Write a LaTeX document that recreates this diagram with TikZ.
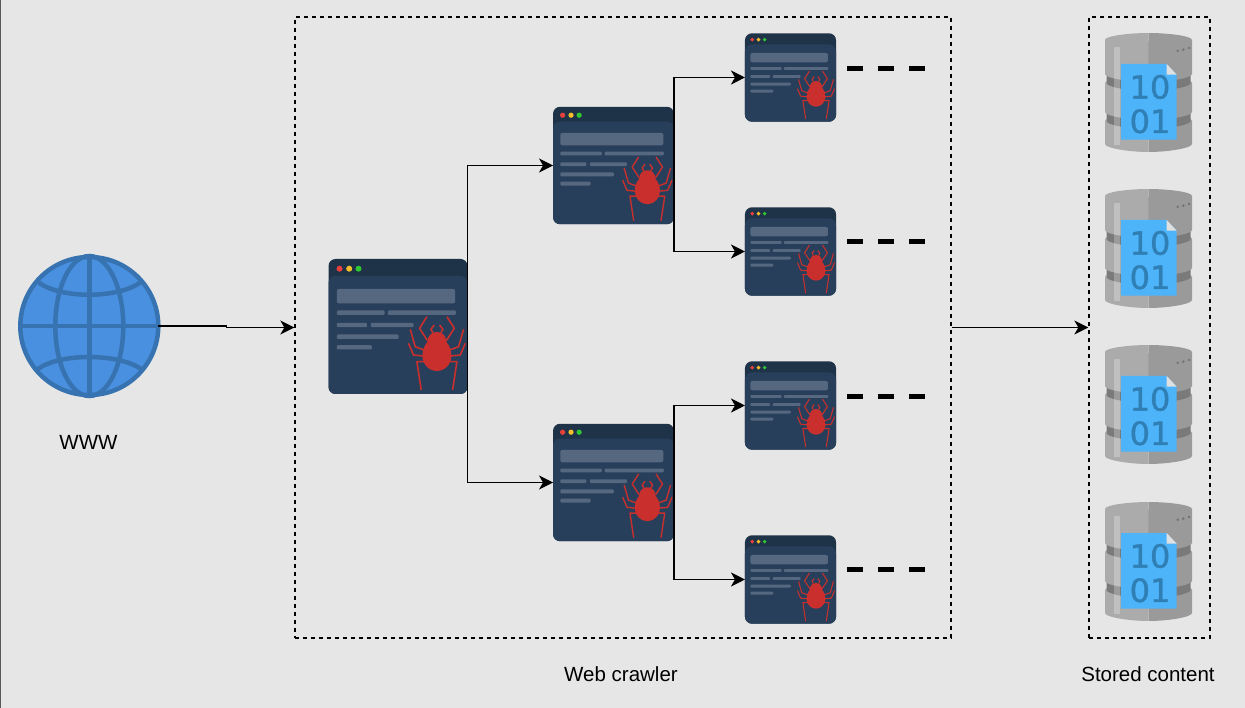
\documentclass[tikz,border=0pt]{standalone}
\usepackage{fontspec}
\setmainfont{Liberation Sans}
\newfontfamily\docfont[FakeBold=1.2]{DejaVu Sans}
\usetikzlibrary{arrows.meta,positioning}
\definecolor{backcol}{HTML}{E6E6E6}
\definecolor{headcol}{HTML}{1E3348}
\definecolor{bodycol}{HTML}{283F5C}
\definecolor{barcol}{HTML}{55687F}
\definecolor{bugcol}{HTML}{C92F2C}
\definecolor{dotred}{HTML}{E8413C}
\definecolor{dotyellow}{HTML}{F5BF2B}
\definecolor{dotgreen}{HTML}{2FC832}
\definecolor{globecol}{HTML}{4A90E0}
\definecolor{globeline}{HTML}{3673B0}
\definecolor{dbleft}{HTML}{ABABAB}
\definecolor{dbright}{HTML}{9A9A9A}
\definecolor{dbband}{HTML}{7A7A7A}
\definecolor{doccol}{HTML}{4DB4FA}
\definecolor{docnum}{HTML}{2F7FB5}
\tikzset{
  flow/.style={-{Stealth[length=14pt,width=14pt,inset=4pt]},line width=1.5pt,black},
  crawlbox/.style={draw,dash pattern=on 4pt off 4pt,line width=1.3pt,inner sep=0pt},
  caption/.style={font=\fontsize{20.5}{24}\selectfont,inner sep=0pt},
  pagebox/.style={inner sep=0pt,outer sep=0pt},
  trail/.style={line width=5pt,black},
  crawlerpage/.pic={
    \begin{scope}[scale=#1]
      \fill[headcol] (0,0) [rounded corners=7] rectangle (139,135);
      \fill[bodycol] (0,17) [rounded corners=7] rectangle (139,135);
      \fill[dotred] (11,9.7) circle (3);
      \fill[dotyellow] (20.7,9.7) circle (3);
      \fill[dotgreen] (30,9.7) circle (3);
      \fill[barcol] (8.3,30) [rounded corners=2] rectangle (126.7,44.3);
      \foreach \xa/\xb/\yy in {8.3/56/53.7,59.3/127.3/53.7,8.3/38.3/66,42.3/85/66,8.3/70/77.7,8.3/43.3/88.3}
        \fill[barcol] (\xa,\yy-2.2) [rounded corners=1] rectangle (\xb,\yy+2.2);
      \begin{scope}[shift={(108.4,0)}]
        \foreach \m in {1,-1} {
          \begin{scope}[xscale=\m,bugcol,line width={1.6*#1 pt},line join=round]
            \draw (-10,57.7) -- (-17.4,69.3) -- (-9.4,81.7);
            \draw (-26.7,70.3) -- (-21.7,87.7) -- (-12.7,91);
            \draw (-28.4,84.3) -- (-23.4,96) -- (-13.4,97);
            \draw (-15.7,131) -- (-20,102.7) -- (-10.7,102.7);
            \draw (-4,73.7) -- (-6,70.3) -- (-2.7,66);
          \end{scope}
        }
        \fill[bugcol] (0,73) .. controls (6,73) and (9,77) .. (9.5,83)
          .. controls (13,87) and (14.5,92) .. (14.5,97)
          .. controls (14.5,105) and (8,112) .. (0,112)
          .. controls (-8,112) and (-14.5,105) .. (-14.5,97)
          .. controls (-14.5,92) and (-13,87) .. (-9.5,83)
          .. controls (-9,77) and (-6,73) .. (0,73) -- cycle;
      \end{scope}
    \end{scope}
  },
  datastore/.pic={
    \foreach \m/\sidecol in {1/dbright,-1/dbleft} {
      \begin{scope}[shift={(43.5,0)},xscale=\m]
        \fill[\sidecol] (0,81) .. controls (20,81) and (43.5,84) .. (43.5,88) -- (43.5,111)
          .. controls (43.5,115) and (20,119) .. (0,119) -- cycle;
        \fill[dbband] (0,45) .. controls (20,45) and (42,48) .. (42,52) -- (42,88)
          .. controls (42,92) and (20,96) .. (0,96) -- cycle;
        \fill[\sidecol] (0,43) .. controls (20,43) and (43.5,46) .. (43.5,50) -- (43.5,79)
          .. controls (43.5,83) and (20,87) .. (0,87) -- cycle;
        \fill[dbband] (0,8) .. controls (20,8) and (42,10) .. (42,14) -- (42,50)
          .. controls (42,54) and (20,58) .. (0,58) -- cycle;
        \fill[\sidecol] (0,0) .. controls (20,0) and (43.5,3) .. (43.5,7) -- (43.5,41)
          .. controls (43.5,45) and (20,49) .. (0,49) -- cycle;
      \end{scope}
    }
    \fill[white,opacity=.25] (8.5,14) rectangle (15,112);
    \foreach \xx/\yy in {72.7/17.7,78.3/16.7,84/15} \fill[black!55] (\xx,\yy) circle (1.4);
    \fill[doccol] (16,31) -- (61.7,31) -- (71.7,41.7) -- (71.7,106.7) -- (16,106.7) -- cycle;
    \fill[black!12] (61.7,31) -- (71.7,41.7) -- (61.7,41.7) -- cycle;
    \node[inner sep=0pt,text=docnum,font=\docfont\fontsize{32}{32}\selectfont] at (45,54) {10};
    \node[inner sep=0pt,text=docnum,font=\docfont\fontsize{32}{32}\selectfont] at (45,88.3) {01};
  }
}
% one page: box for the connectors, then the drawing in it
\newcommand{\crawlpage}[4]{%
  \node[pagebox,minimum width={139*#4 pt},minimum height={135*#4 pt}] (#1) at (#2,#3) {};
  \pic at (#1.north west) {crawlerpage=#4};
}
\begin{document}
\begin{tikzpicture}[x=1pt,y=-1pt]
  \useasboundingbox (0,0) rectangle (1245,708);
  \fill[backcol] (0,0) rectangle (1245,708);
  \draw[gray!70!black,line width=1pt] (0.5,0) -- (0.5,708);

  % www
  \node[circle,draw=globeline,fill=globecol,line width=4.5pt,minimum size=138pt,inner sep=0pt,outer sep=0pt] (globe) at (89.3,326) {};
  \begin{scope}[globeline,line width=4.5pt]
    \draw (globe.north) -- (globe.south);
    \draw (globe.west) -- (globe.east);
    \draw (89.3,326) ellipse (34 and 70);
    \draw (38,282) .. controls (60,299) and (118,299) .. (141,282);
    \draw (38,369) .. controls (60,353) and (118,353) .. (141,369);
  \end{scope}
  \node[caption] (wwwlabel) at (88.5,442) {WWW};

  % crawler pages
  \crawlpage{rootpage}{398}{326.5}{1}
  \crawlpage{upperpage}{613.5}{165.5}{0.87}
  \crawlpage{lowerpage}{613.5}{482.5}{0.87}
  \crawlpage{leafa}{790.5}{77.5}{0.655}
  \crawlpage{leafb}{790.5}{251.5}{0.655}
  \crawlpage{leafc}{790.5}{405.5}{0.655}
  \crawlpage{leafd}{790.5}{579.5}{0.655}

  \node[crawlbox,minimum width=656pt,minimum height=621pt] (crawler) at (623,327.5) {};
  \node[crawlbox,minimum width=121pt,minimum height=621pt] (store) at (1149.5,327.5) {};
  \node[caption] (crawlerlabel) at (621,674) {Web crawler};
  \node[caption] (storelabel) at (1148,674) {Stored content};

  % stored content
  \foreach \yy in {33,189,345,502}
    \pic at (1105,\yy) {datastore};

  % connectors
  \draw[flow] (globe.east) -- ++(68,0) |- (crawler.west);
  \draw[flow] (crawler.east) -- (store.west);
  \draw[flow] (rootpage.east) |- (upperpage.west);
  \draw[flow] (rootpage.east) |- (lowerpage.west);
  \draw[flow] (upperpage.east) |- (leafa.west);
  \draw[flow] (upperpage.east) |- (leafb.west);
  \draw[flow] (lowerpage.east) |- (leafc.west);
  \draw[flow] (lowerpage.east) |- (leafd.west);

  % trailing dashes
  \foreach \yy in {68.5,241.5,396.5,569.5} {
    \draw[trail] (847,\yy) -- (863,\yy);
    \draw[trail] (878,\yy) -- (894,\yy);
    \draw[trail] (909,\yy) -- (925,\yy);
  }
\end{tikzpicture}
\end{document}
